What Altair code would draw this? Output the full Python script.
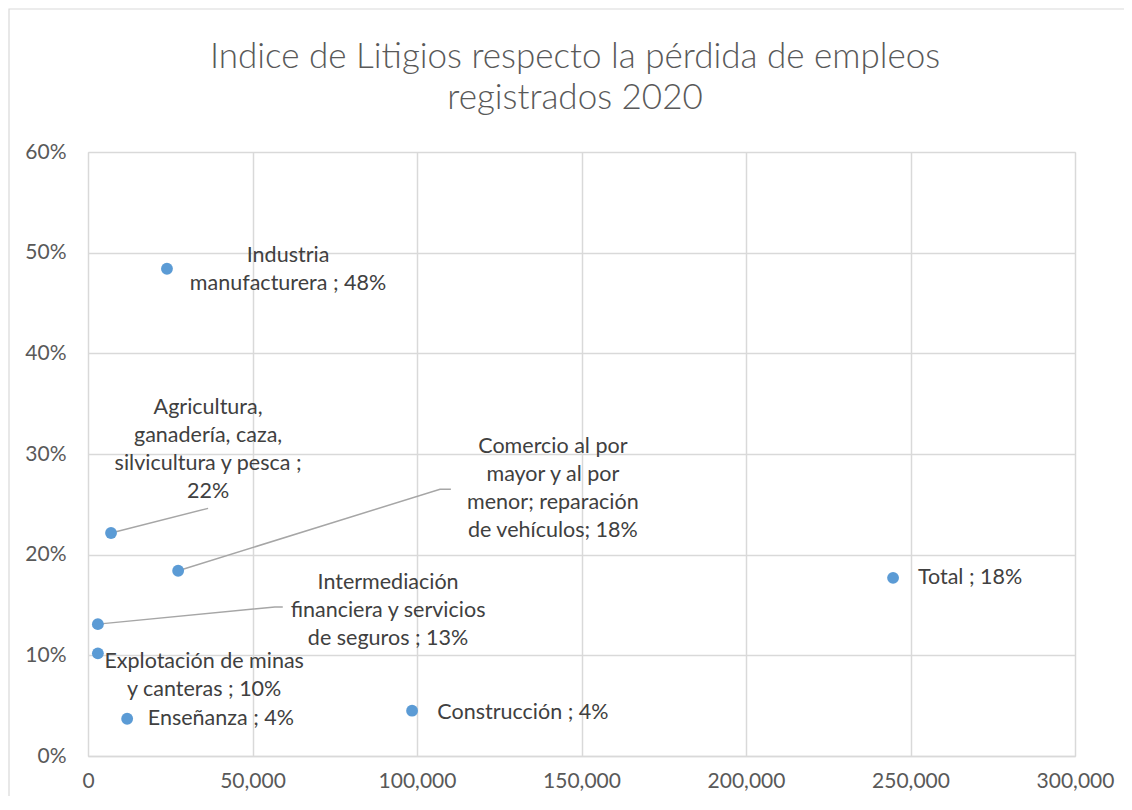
import altair as alt
import pandas as pd

# ---- data ----
sectors = [
    "Industria manufacturera",
    "Agricultura, ganadería, caza, silvicultura y pesca",
    "Comercio al por mayor y al por menor; reparación de vehículos",
    "Intermediación financiera y servicios de seguros",
    "Explotación de minas y canteras",
    "Enseñanza",
    "Construcción",
    "Total",
]
empleos_perdidos = [24000, 7000, 27400, 3000, 3000, 11900, 98500, 244700]
indice_litigios = [0.484, 0.2215, 0.184, 0.131, 0.102, 0.037, 0.045, 0.177]

label_texts = [
    "Industria\nmanufacturera ; 48%",
    "Agricultura,\nganadería, caza,\nsilvicultura y pesca ;\n22%",
    "Comercio al por\nmayor y al por\nmenor; reparación\nde vehículos; 18%",
    "Intermediación\nfinanciera y servicios\nde seguros ; 13%",
    "Explotación de minas\ny canteras ; 10%",
    "Enseñanza ; 4%",
    "Construcción ; 4%",
    "Total ; 18%",
]
# label anchor (centre of the first line of each label), in data units
label_x = [60800, 36500, 141300, 91200, 35300, 40400, 132200, 268100]
label_y = [0.4967, 0.3457, 0.3069, 0.1718, 0.0934, 0.0368, 0.0427, 0.1768]

# leader lines: sector index, then bend/end points in data units
leader_sector = [1, 2, 2, 3, 3]
leader_x = [36500, 107000, 110300, 56800, 59200]
leader_y = [0.246, 0.265, 0.265, 0.148, 0.148]

x_ticks = [0, 50000, 100000, 150000, 200000, 250000, 300000]
y_ticks = [0, 0.1, 0.2, 0.3, 0.4, 0.5, 0.6]

title_lines = "Indice de Litigios respecto la pérdida de empleos\nregistrados 2020"

FONT = "Lato"
TXT = "#404040"
AX = "#595959"
GRID = "#d9d9d9"
BLUE = "#5b9bd5"

pts = pd.DataFrame({
    "sector": sectors,
    "empleos": empleos_perdidos,
    "indice": indice_litigios,
    "label": label_texts,
    "lx": label_x,
    "ly": label_y,
})

rows = []
for i, s in enumerate(sectors):
    if i in leader_sector:
        rows.append({"sector": s, "seq": 0, "x": empleos_perdidos[i], "y": indice_litigios[i]})
seqc = {}
for k, si in enumerate(leader_sector):
    seqc[si] = seqc.get(si, 0) + 1
    rows.append({"sector": sectors[si], "seq": seqc[si], "x": leader_x[k], "y": leader_y[k]})
lead = pd.DataFrame(rows)

W, H = 987, 604
xscale = alt.Scale(domain=[0, 300000], nice=False, zero=True)
yscale = alt.Scale(domain=[0, 0.6], nice=False)

xaxis = alt.Axis(values=x_ticks, format=",.0f", title=None, grid=True,
                 gridColor=GRID, gridWidth=1.5, domainColor=GRID, domainWidth=1.5,
                 ticks=False, labelFont=FONT, labelFontSize=21, labelColor=AX,
                 labelPadding=14, labelFlush=False)
yaxis = alt.Axis(values=y_ticks, format=".0%", title=None, grid=True,
                 gridColor=GRID, gridWidth=1.5, domain=False, ticks=False,
                 labelFont=FONT, labelFontSize=21, labelColor=AX, labelPadding=22)

border = alt.Chart(pd.DataFrame({"a": [0]})).mark_rect(
    fill="white", fillOpacity=0, stroke=GRID, strokeWidth=1.2
).encode(
    x=alt.value(-79), x2=alt.value(1041), y=alt.value(-143), y2=alt.value(700)
)

title = alt.Chart(pd.DataFrame({"t": [title_lines]})).mark_text(
    font=FONT, fontSize=35, fontWeight=300, color=AX, lineBreak="\n", lineHeight=41,
    align="center", baseline="middle"
).encode(x=alt.value(487), y=alt.value(-95), text="t:N")

leaders = alt.Chart(lead).mark_line(color="#a6a6a6", strokeWidth=1.5).encode(
    x=alt.X("x:Q", scale=xscale, axis=xaxis),
    y=alt.Y("y:Q", scale=yscale, axis=yaxis),
    detail="sector:N",
    order="seq:Q",
)

points = alt.Chart(pts).mark_circle(size=140, color=BLUE, opacity=1).encode(
    x=alt.X("empleos:Q", scale=xscale, axis=xaxis),
    y=alt.Y("indice:Q", scale=yscale, axis=yaxis),
)

labels = alt.Chart(pts).mark_text(
    font=FONT, fontSize=21.5, color=TXT, lineBreak="\n", lineHeight=28,
    align="center", baseline="middle"
).encode(
    x=alt.X("lx:Q", scale=xscale, axis=xaxis),
    y=alt.Y("ly:Q", scale=yscale, axis=yaxis),
    text="label:N",
)

chart = alt.layer(border, title, leaders, points, labels).properties(
    width=W, height=H,
    autosize=alt.AutoSizeParams(type="none"),
    padding={"left": 80, "top": 144, "right": 49, "bottom": 40},
).configure_view(stroke=None).configure(background="white")

chart.save("out.html", embed_options={"renderer": "svg", "actions": False})
